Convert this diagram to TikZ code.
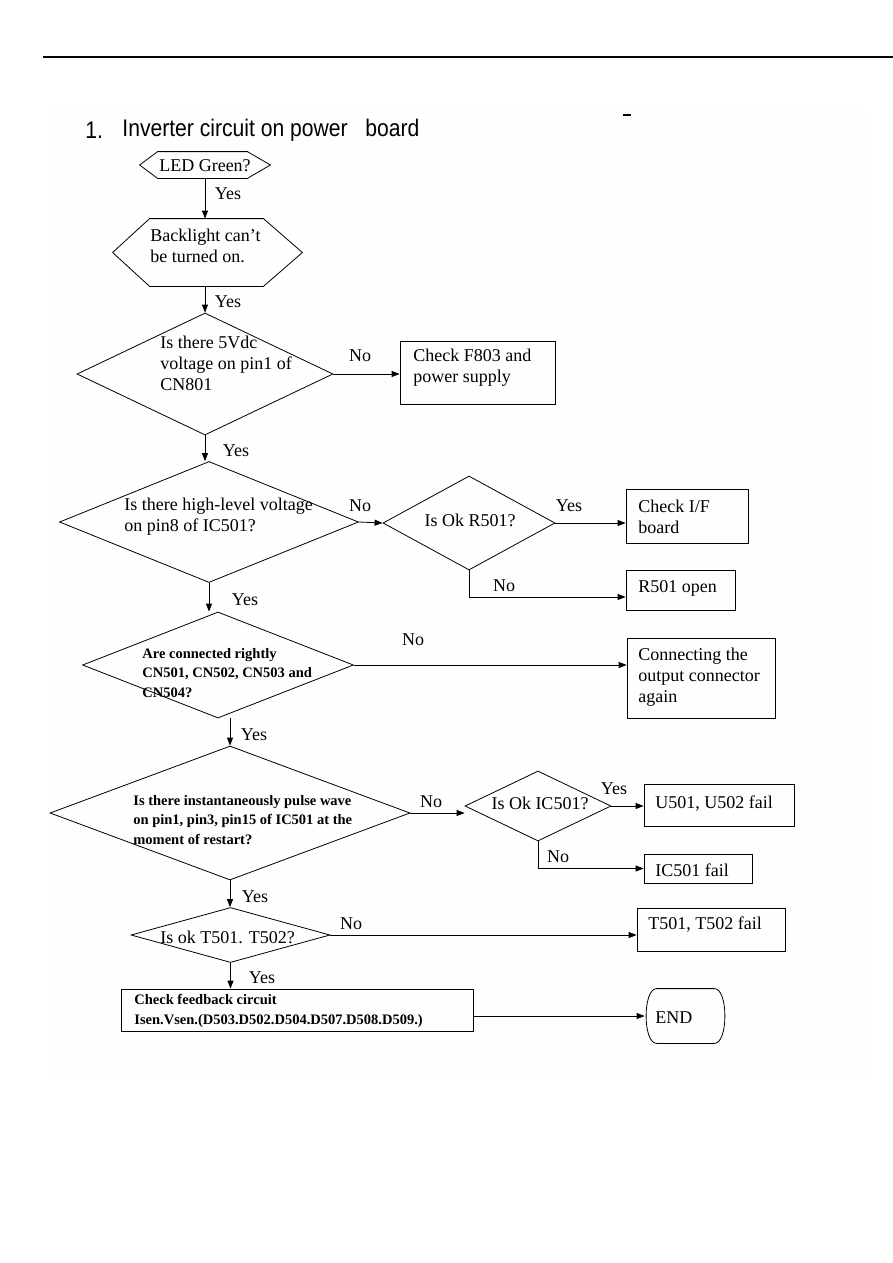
\documentclass[tikz,border=0pt]{standalone}
\usepackage{fontspec}
\setmainfont{Liberation Serif}
\newfontfamily\titlefont{Liberation Sans}
\usetikzlibrary{shapes.geometric,shapes.misc,arrows.meta}
\definecolor{bgc}{RGB}{254,254,254}
\begin{document}
\begin{tikzpicture}[x=1pt,y=-1pt,line width=0.8pt,
  txt/.style={font=\fontsize{18}{21}\selectfont,inner sep=0pt,align=left},
  btxt/.style={font=\fontsize{14.5}{19.5}\selectfont\bfseries,inner sep=0pt,align=left},
  lbl/.style={font=\fontsize{18}{21}\selectfont,inner sep=0pt},
  ttl/.style={anchor=west,inner sep=0pt,font=\titlefont\fontsize{24}{28}\selectfont},
  dia/.style={draw,diamond,inner sep=0pt},
  box/.style={draw,rectangle,inner sep=0pt},
  hexa/.style={rectangle,inner sep=0pt},
  arr/.style={-{Triangle[length=8pt,width=6pt]}}]
\useasboundingbox (0,0) rectangle (893,1263);
\fill[bgc] (48,110) rectangle (868,1080);
\draw[line width=1.1pt] (43,57) -- (893,57);
\draw[line width=2pt] (623,115) -- (631,115);
% title
\node[ttl] (tnum) at (85,130) {\scalebox{0.88}[1]{1.}};
\node[ttl] (title) at (122,130) {\scalebox{0.88}[1]{Inverter circuit on power\hspace{20pt}board}};
% hexagons
\node[hexa,minimum width=130,minimum height=26] (led) at (205,165) {};
\draw (led.west) -- ([xshift=18pt]led.north west) -- ([xshift=-23pt]led.north east) -- (led.east) -- ([xshift=-23pt]led.south east) -- ([xshift=18pt]led.south west) -- cycle;
\node[txt] (ledt) at (205,166) {LED Green?};
\node[hexa,minimum width=189,minimum height=67] (bl) at (207.5,252.5) {};
\draw (bl.west) -- ([xshift=37pt]bl.north west) -- ([xshift=-39pt]bl.north east) -- (bl.east) -- ([xshift=-39pt]bl.south east) -- ([xshift=37pt]bl.south west) -- cycle;
\node[txt,anchor=west] (blt) at (150,246) {Backlight can’t\\be turned on.};
% diamonds
\node[dia,minimum width=256,minimum height=122] (d1) at (205,374) {};
\node[txt,anchor=west] (d1t) at (160,363) {Is there 5Vdc\\voltage on pin1 of\\CN801};
\node[dia,minimum width=299,minimum height=121] (d2) at (209,522) {};
\node[txt,anchor=west] (d2t) at (124,516.5) {Is there high-level voltage\\on pin8 of IC501?};
\node[dia,minimum width=172,minimum height=94] (r501) at (469,523) {};
\node[txt] (r501t) at (470,520) {Is Ok R501?};
\node[dia,minimum width=271,minimum height=106] (d3) at (218,665) {};
\node[btxt,anchor=west] (d3t) at (142,673) {Are connected rightly\\CN501, CN502, CN503 and\\CN504?};
\node[dia,minimum width=360,minimum height=134] (d4) at (230,813) {};
\node[btxt,anchor=west] (d4t) at (133,820) {Is there instantaneously pulse wave\\on pin1, pin3, pin15 of IC501 at the\\moment of restart?};
\node[dia,minimum width=146,minimum height=70] (ic) at (538,806) {};
\node[txt] (ict) at (540,803) {Is Ok IC501?};
\node[dia,minimum width=199,minimum height=55] (d5) at (230.5,935) {};
\node[txt,anchor=west] (d5t) at (160,937) {Is ok T501. T502?};
% boxes
\node[box,minimum width=155,minimum height=63] (f803) at (477.5,372.5) {};
\node[txt,anchor=west] (f803t) at (413,368) {Check F803 and\\power supply};
\node[box,minimum width=122,minimum height=54] (iff) at (687,516) {};
\node[txt,anchor=west] (ifft) at (638,516.5) {Check I/F\\board};
\node[box,minimum width=109,minimum height=40] (ropen) at (680.5,590) {};
\node[txt,anchor=west] (ropent) at (638,588) {R501 open};
\node[box,minimum width=148,minimum height=80] (conn) at (701,678) {};
\node[txt,anchor=west] (connt) at (638,677) {Connecting the\\output connector\\again};
\node[box,minimum width=150,minimum height=42] (u501) at (719,805) {};
\node[txt,anchor=west] (u501t) at (655,804) {U501, U502 fail};
\node[box,minimum width=108,minimum height=29] (icf) at (698,868.5) {};
\node[txt,anchor=west] (icft) at (655,870) {IC501 fail};
\node[box,minimum width=148,minimum height=43] (t501) at (711,929.5) {};
\node[txt,anchor=west] (t501t) at (648,925) {T501, T502 fail};
\node[box,minimum width=352,minimum height=42] (fb) at (297,1010) {};
\node[btxt,anchor=west] (fbt) at (134,1011) {Check feedback circuit\\Isen.Vsen.(D503.D502.D504.D507.D508.D509.)};
\node[hexa,minimum width=81,minimum height=54] (endn) at (685.5,1016) {};
\draw ([xshift=12pt]endn.north west) -- ([xshift=-12pt]endn.north east)
  .. controls ([xshift=2pt]endn.north east) and ([xshift=2pt]endn.south east) .. ([xshift=-12pt]endn.south east)
  -- ([xshift=12pt]endn.south west)
  .. controls ([xshift=-2pt]endn.south west) and ([xshift=-2pt]endn.north west) .. cycle;
\node[txt,anchor=west] (endt) at (655,1018) {END};
% vertical connectors
\draw[arr] (led.south) -- (bl.north -| led.south);
\draw[arr] (bl.south -| d1.north) -- (d1.north);
\draw[arr] (d1.south) -- (d2.north -| d1.south);
\draw[arr] (d2.south) -- (d2.south |- d3.north);
\draw[arr] (d3.south -| d4.north) -- (d4.north);
\draw[arr] (d4.south) -- (d4.south |- d5.north);
\draw[arr] (d5.south) -- (d5.south |- fb.north);
% horizontal connectors
\draw[arr] (d1.east) -- (d1.east -| f803.west);
\draw[arr] (d2.east) -- (r501.west);
\draw[arr] (r501.east) -- (r501.east -| iff.west);
\draw[arr] (r501.south) |- ([yshift=-7pt]ropen.west);
\draw[arr] (d3.east) -- (d3.east -| conn.west);
\draw[arr] (d4.east) -- (d4.east -| ic.west);
\draw[arr] (ic.east) -- (ic.east -| u501.west);
\draw[arr] (ic.south) |- (icf.west);
\draw[arr] (d5.east) -- (d5.east -| t501.west);
\draw[arr] (fb.east |- endn.west) -- (endn.west);
% labels
\node[lbl] (y1) at (228,194) {Yes};
\node[lbl] (y2) at (228,302) {Yes};
\node[lbl] (y3) at (236,451) {Yes};
\node[lbl] (y4) at (245,600) {Yes};
\node[lbl] (y5) at (254,735) {Yes};
\node[lbl] (y6) at (255,897) {Yes};
\node[lbl] (y7) at (262,978) {Yes};
\node[lbl] (n1) at (360,356) {No};
\node[lbl] (n2) at (360,506) {No};
\node[lbl] (y8) at (569,506) {Yes};
\node[lbl] (n3) at (504,586) {No};
\node[lbl] (n4) at (413,640) {No};
\node[lbl] (n5) at (431,802) {No};
\node[lbl] (y9) at (614,789) {Yes};
\node[lbl] (n6) at (558,857) {No};
\node[lbl] (n7) at (351,924) {No};
\end{tikzpicture}
\end{document}
